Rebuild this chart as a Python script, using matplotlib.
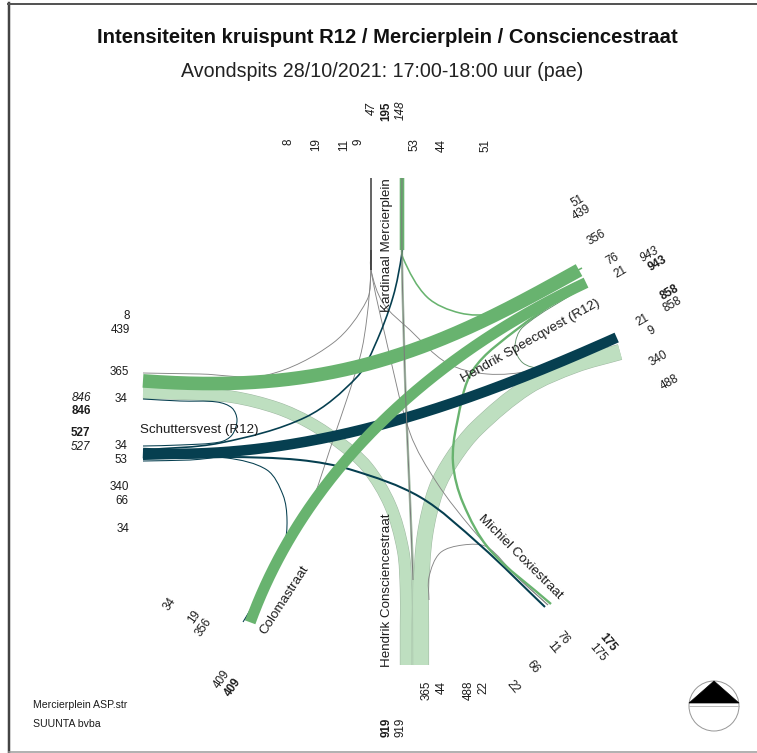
import numpy as np
import matplotlib
matplotlib.use("Agg")
import matplotlib.pyplot as plt
from matplotlib.path import Path
from matplotlib.patches import PathPatch, Circle, Polygon

plt.rcParams['font.family'] = ['Liberation Sans', 'DejaVu Sans']

# ---- data -------------------------------------------------------------
TITLE = "Intensiteiten kruispunt R12 / Mercierplein / Consciencestraat"
SUBTITLE = "Avondspits 28/10/2021: 17:00-18:00 uur (pae)"
FOOTER = ["Mercierplein ASP.str", "SUUNTA bvba"]

flow_names = ["N-W", "N-SW", "N-SE", "N-E", "W-W", "W-N", "W-SE", "W-E", "W-SW",
              "S-N", "S-SE", "S-W", "S-E", "NE-N", "NE-SE", "E-NE", "SW-NE", "NE-W",
              "N-in", "N-out"]
flow_values = [8, 19, 11, 9, 34, 53, 66, 340, 34,
               44, 22, 365, 488, 51, 76, 21, 356, 439,
               47, 148]
flow_kinds = ["grey", "grey", "grey", "grey", "dark", "dark", "dark", "dark", "dark",
              "light", "grey", "light", "light", "green", "green", "olive", "green", "green",
              "stem", "green"]

arm_label_values = {
    "W": ["8", "439", "365", "34", "34", "53", "340", "66", "34"],
    "N": ["8", "19", "11", "9", "53", "44", "51"],
    "NE": ["51", "439", "356", "76", "21"],
    "E": ["21", "9", "340", "488"],
    "SE": ["76", "11", "66", "22"],
    "S": ["365", "44", "488", "22"],
    "SW": ["34", "19", "356"],
}
total_labels = [("846", "italic"), ("846", "bold"), ("527", "bold"), ("527", "italic"),
                ("47", "italic"), ("195", "bold"), ("148", "italic"),
                ("943", "italic"), ("943", "bold"), ("858", "bold"), ("858", "normal"),
                ("175", "bold"), ("175", "normal"),
                ("919", "bold"), ("919", "normal"),
                ("409", "normal"), ("409", "bold")]
street_names = ["Kardinaal Mercierplein", "Hendrik Speecqvest (R12)", "Schuttersvest (R12)",
                "Michiel Coxiestraat", "Hendrik Consciencestraat", "Colomastraat"]

# ---- styling and layout (pixel frame of the figure) ---------------------
W, H = 757, 753
DPI = 100
PX = 72 / DPI
WIDTH_PER_VEH = 0.031
COL = {"light": "#BEDFC0", "green": "#68B36F", "dark": "#063F50", "grey": "#858585",
       "olive": "#5F8F68", "stem": "#303030"}
TXT = "#1c1c1c"

# route of every flow through the junction: a smooth curve passes through these waypoints
routes = {
    "N-W": [(371, 250), (371, 268), (367, 300), (333, 343), (267, 375), (200, 374), (143, 373)],
    "N-SW": [(371, 250), (371, 270), (367, 317), (360, 357), (333, 440), (307, 513), (280, 553), (245, 620)],
    "N-SE": [(371, 250), (371, 270), (385, 335), (410, 433), (437, 483), (473, 530), (510, 570), (548, 605)],
    "N-E": [(371, 250), (371, 270), (383, 303), (410, 330), (447, 363), (487, 374), (533, 370), (575, 352), (613, 335)],
    "W-W": [(143, 399), (180, 401), (217, 402), (232, 408), (237, 420), (232, 435), (220, 442), (180, 445), (143, 446)],
    "W-N": [(143, 450), (220, 443), (306, 417), (357, 377), (375, 345), (393, 297), (402, 253), (402, 240)],
    "W-SE": [(143, 459), (225, 457), (300, 460), (352, 470), (420, 497), (480, 545), (545, 607)],
    "W-SW": [(143, 461), (190, 460), (227, 458), (267, 470), (283, 495), (287, 520), (284, 545), (265, 585), (243, 622)],
    "S-N": [(413, 665), (413, 580), (410, 500), (407, 430), (405, 377), (402, 260), (402, 178)],
    "S-SE": [(429, 600), (429, 577), (440, 553), (463, 545), (487, 547), (515, 575), (548, 605)],
    "S-W": [(143, 393), (190, 394), (233, 397), (277, 408), (310, 423), (340, 443), (367, 467), (390, 505), (403, 550),
            (406, 590), (406, 625), (406, 665)],
    "S-E": [(421, 665), (421, 625), (421, 590), (425, 535), (436, 490), (453, 458), (477, 428), (527, 387), (575, 365), (620, 352)],
    "NE-N": [(402, 240), (403, 258), (427, 297), (460, 313), (493, 313), (540, 290), (582, 268)],
    "NE-SE": [(584, 283), (520, 327), (473, 370), (457, 423), (453, 463), (463, 503), (490, 550), (551, 604)],
    "E-NE": [(613, 335), (540, 367), (523, 363), (515, 347), (523, 327), (584, 287)],
    "N-in": [(371, 178), (371, 270)],
    "N-out": [(402, 178), (402, 250)],
}
fitted_routes = {
    "W-E": ([(143, 453), (250, 450), (367, 427), (460, 403), (543, 367), (617, 338)], 3),
    "SW-NE": ([(248, 621), (273, 580), (333, 470), (377, 427), (460, 360), (517, 317), (586, 283)], 3),
    "NE-W": ([(143, 381), (220, 383), (300, 378), (360, 367), (427, 343), (493, 317), (579, 270)], 4),
}
draw_order = ["S-W", "S-E", "S-N", "N-W", "N-SW", "N-SE", "N-E", "S-SE", "W-W", "W-N", "W-SE",
              "W-SW", "NE-SE", "NE-N", "N-out", "N-in", "E-NE", "W-E", "NE-W", "SW-NE"]

fig = plt.figure(figsize=(W / DPI, H / DPI), dpi=DPI, facecolor="white")
ax = fig.add_axes([0, 0, 1, 1])
ax.set_xlim(0, W)
ax.set_ylim(H, 0)
ax.axis("off")


def smooth_path(points):
    p = np.asarray(points, float)
    d = np.hypot(*np.diff(p, axis=0).T)
    m = np.zeros_like(p)
    m[0] = (p[1] - p[0]) / d[0]
    m[-1] = (p[-1] - p[-2]) / d[-1]
    for i in range(1, len(p) - 1):
        m[i] = (p[i + 1] - p[i - 1]) / (d[i] + d[i - 1])
    verts = [p[0]]
    codes = [Path.MOVETO]
    for i in range(len(p) - 1):
        verts += [p[i] + m[i] * d[i] / 3, p[i + 1] - m[i + 1] * d[i] / 3, p[i + 1]]
        codes += [Path.CURVE4] * 3
    return Path(verts, codes)


def fitted_path(points, degree):
    p = np.asarray(points, float)
    t = np.r_[0, np.cumsum(np.hypot(*np.diff(p, axis=0).T))]
    t = t / t[-1]
    s = np.linspace(0, 1, 200)
    xy = np.c_[np.polyval(np.polyfit(t, p[:, 0], degree), s),
               np.polyval(np.polyfit(t, p[:, 1], degree), s)]
    return Path(xy)


for name in draw_order:
    i = flow_names.index(name)
    kind = flow_kinds[i]
    lw = max(flow_values[i] * WIDTH_PER_VEH, 0.9) * PX
    if name in fitted_routes:
        path = fitted_path(*fitted_routes[name])
    else:
        path = smooth_path(routes[name])
    if kind == "light":
        ax.add_patch(PathPatch(path, fc="none", ec="#9FB8A2", lw=lw + 1.0 * PX, capstyle="butt", zorder=2))
    ax.add_patch(PathPatch(path, fc="none", ec=COL[kind], lw=lw, capstyle="butt", zorder=3))
    if name == "S-N":
        # the thin strand shows as a grey line once it leaves the approach
        ax.add_patch(PathPatch(smooth_path(routes[name][1:]), fc="none", ec="#7a7a7a",
                               lw=1.0 * PX, capstyle="butt", zorder=3.5))

# frame: top, left and bottom edges only
ax.plot([9, 9], [3, 753], color="#444444", lw=2.5 * PX, zorder=1)
ax.plot([8, 757], [3.5, 3.5], color="#555555", lw=2 * PX, zorder=1)
ax.plot([9, 757], [751.5, 751.5], color="#999999", lw=1.5 * PX, zorder=1)

ax.text(387, 37, TITLE, fontsize=14.55, fontweight="bold", ha="center", va="center", color="#111111")
ax.text(382, 71, SUBTITLE, fontsize=14.1, ha="center", va="center", color="#222222")

arm_positions = {
    "W": [(127, 316), (120, 330), (119, 372), (121, 399), (121, 446), (121, 460), (119, 487), (122, 501), (123, 529)],
    "N": [(288, 142), (316, 145), (344, 145), (358, 142), (414, 145), (442, 145), (485, 145)],
    "NE": [(578, 201), (582, 213), (596, 238), (612, 259), (621, 272)],
    "E": [(643, 320), (652, 331), (658, 359), (670, 383)],
    "SE": [(563, 638), (553, 648), (533, 667), (513, 687)],
    "S": [(427, 690), (442, 687), (469, 690), (483, 687)],
    "SW": [(170, 604), (194, 617), (204, 627)],
}
arm_rotation = {"W": 0, "N": 90, "NE": 30, "E": 30, "SE": -50, "S": 90, "SW": 55}
for arm, vals in arm_label_values.items():
    for v, (x, y) in zip(vals, arm_positions[arm]):
        ax.text(x, y, v, fontsize=8.4, rotation=arm_rotation[arm], ha="center", va="center",
                color=TXT, rotation_mode="anchor")

total_positions = [(81, 398, 0), (81, 411, 0), (80, 433, 0), (80, 447, 0),
                   (372, 108, 90), (386, 111, 90), (401, 110, 90),
                   (650, 255, 30), (658, 264, 30), (670, 293, 30), (672, 305, 30),
                   (608, 643, -50), (598, 653, -50),
                   (387, 727, 90), (400, 727, 90),
                   (222, 679, 55), (233, 687, 55)]
for (txt, style), (x, y, rot) in zip(total_labels, total_positions):
    ax.text(x, y, txt, fontsize=8.4, rotation=rot, ha="center", va="center", color=TXT,
            rotation_mode="anchor",
            fontweight="bold" if style == "bold" else "normal",
            fontstyle="italic" if style == "italic" else "normal")

street_positions = [(387, 245, 90), (531, 341, 29.5), (199, 430, 0),
                    (520, 557, -45), (387, 590, 90), (285, 600, 57)]
for name, (x, y, rot) in zip(street_names, street_positions):
    ax.text(x, y, name, fontsize=9.65, rotation=rot, ha="center", va="center", color=TXT,
            rotation_mode="anchor", zorder=6)

for line, y in zip(FOOTER, (705, 724)):
    ax.text(33, y, line, fontsize=7.6, ha="left", va="center", color=TXT)

# north arrow
ax.add_patch(Circle((714, 706), 25, fc="white", ec="#999999", lw=1 * PX, zorder=5))
ax.add_patch(Polygon([(689, 703), (739, 703), (714, 681)], closed=True, fc="black", ec="black", lw=0.5, zorder=6))
ax.plot([689, 739], [706, 706], color="#bbbbbb", lw=1 * PX, zorder=6)

fig.savefig("out.png", dpi=DPI, facecolor="white")
